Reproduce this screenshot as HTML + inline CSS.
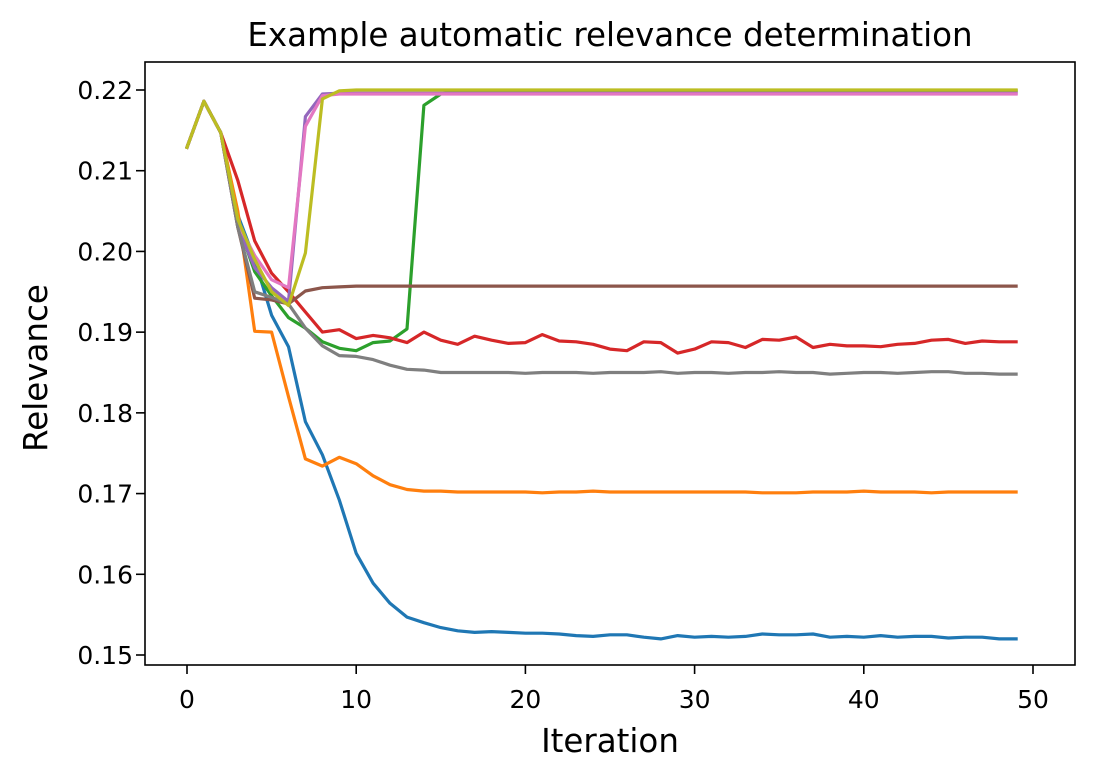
<!DOCTYPE html>
<html><head><meta charset="utf-8"><style>
body{margin:0;background:#fff;}
svg{display:block;font-family:"DejaVu Sans","Liberation Sans",sans-serif;}
</style></head><body>
<svg id="chart" width="1095" height="778">
<text x="610" y="46" text-anchor="middle" font-size="32.5">Example automatic relevance determination</text>
<text x="610" y="752" text-anchor="middle" font-size="32.5">Iteration</text>
<text x="47" y="368" text-anchor="middle" font-size="32.5" transform="rotate(-90 47 368)">Relevance</text>
<g id="plot"></g>
</svg>
<script>
const xTicks=[0,10,20,30,40,50];
const yTicks=[0.15,0.16,0.17,0.18,0.19,0.20,0.21,0.22];
const yTickLabels=["0.15","0.16","0.17","0.18","0.19","0.20","0.21","0.22"];
const iterations=[0,1,2,3,4,5,6,7,8,9,10,11,12,13,14,15,16,17,18,19,20,21,22,23,24,25,26,27,28,29,30,31,32,33,34,35,36,37,38,39,40,41,42,43,44,45,46,47,48,49];
const s0=[0.2129,0.2186,0.2147,0.2045,0.1990,0.1921,0.1882,0.1789,0.1748,0.1692,0.1626,0.1589,0.1564,0.1547,0.1540,0.1534,0.1530,0.1528,0.1529,0.1528,0.1527,0.1527,0.1526,0.1524,0.1523,0.1525,0.1525,0.1522,0.1520,0.1524,0.1522,0.1523,0.1522,0.1523,0.1526,0.1525,0.1525,0.1526,0.1522,0.1523,0.1522,0.1524,0.1522,0.1523,0.1523,0.1521,0.1522,0.1522,0.1520,0.1520];
const s1=[0.2129,0.2186,0.2147,0.2050,0.1901,0.1900,0.1820,0.1743,0.1734,0.1745,0.1737,0.1722,0.1711,0.1705,0.1703,0.1703,0.1702,0.1702,0.1702,0.1702,0.1702,0.1701,0.1702,0.1702,0.1703,0.1702,0.1702,0.1702,0.1702,0.1702,0.1702,0.1702,0.1702,0.1702,0.1701,0.1701,0.1701,0.1702,0.1702,0.1702,0.1703,0.1702,0.1702,0.1702,0.1701,0.1702,0.1702,0.1702,0.1702,0.1702];
const s2=[0.2129,0.2186,0.2147,0.2035,0.1975,0.1945,0.1918,0.1905,0.1888,0.1880,0.1877,0.1887,0.1889,0.1904,0.2181,0.2195,0.2199,0.2199,0.2199,0.2199,0.2199,0.2199,0.2199,0.2199,0.2199,0.2199,0.2199,0.2199,0.2199,0.2199,0.2199,0.2199,0.2199,0.2199,0.2199,0.2199,0.2199,0.2199,0.2199,0.2199,0.2199,0.2199,0.2199,0.2199,0.2199,0.2199,0.2199,0.2199,0.2199,0.2199];
const s3=[0.2129,0.2186,0.2147,0.2088,0.2013,0.1973,0.1950,0.1925,0.1900,0.1903,0.1892,0.1896,0.1893,0.1887,0.1900,0.1890,0.1885,0.1895,0.1890,0.1886,0.1887,0.1897,0.1889,0.1888,0.1885,0.1879,0.1877,0.1888,0.1887,0.1874,0.1879,0.1888,0.1887,0.1881,0.1891,0.1890,0.1894,0.1881,0.1885,0.1883,0.1883,0.1882,0.1885,0.1886,0.1890,0.1891,0.1886,0.1889,0.1888,0.1888];
const s4=[0.2129,0.2186,0.2147,0.2030,0.1980,0.1955,0.1938,0.2167,0.2195,0.2196,0.2196,0.2196,0.2196,0.2196,0.2196,0.2196,0.2196,0.2196,0.2196,0.2196,0.2196,0.2196,0.2196,0.2196,0.2196,0.2196,0.2196,0.2196,0.2196,0.2196,0.2196,0.2196,0.2196,0.2196,0.2196,0.2196,0.2196,0.2196,0.2196,0.2196,0.2196,0.2196,0.2196,0.2196,0.2196,0.2196,0.2196,0.2196,0.2196,0.2196];
const s5=[0.2129,0.2186,0.2147,0.2030,0.1942,0.1940,0.1935,0.1951,0.1955,0.1956,0.1957,0.1957,0.1957,0.1957,0.1957,0.1957,0.1957,0.1957,0.1957,0.1957,0.1957,0.1957,0.1957,0.1957,0.1957,0.1957,0.1957,0.1957,0.1957,0.1957,0.1957,0.1957,0.1957,0.1957,0.1957,0.1957,0.1957,0.1957,0.1957,0.1957,0.1957,0.1957,0.1957,0.1957,0.1957,0.1957,0.1957,0.1957,0.1957,0.1957];
const s6=[0.2129,0.2186,0.2147,0.2035,0.1995,0.1965,0.1955,0.2155,0.2193,0.2195,0.2195,0.2195,0.2195,0.2195,0.2195,0.2195,0.2195,0.2195,0.2195,0.2195,0.2195,0.2195,0.2195,0.2195,0.2195,0.2195,0.2195,0.2195,0.2195,0.2195,0.2195,0.2195,0.2195,0.2195,0.2195,0.2195,0.2195,0.2195,0.2195,0.2195,0.2195,0.2195,0.2195,0.2195,0.2195,0.2195,0.2195,0.2195,0.2195,0.2195];
const s7=[0.2129,0.2186,0.2147,0.2030,0.1950,0.1943,0.1935,0.1905,0.1883,0.1871,0.1870,0.1866,0.1859,0.1854,0.1853,0.1850,0.1850,0.1850,0.1850,0.1850,0.1849,0.1850,0.1850,0.1850,0.1849,0.1850,0.1850,0.1850,0.1851,0.1849,0.1850,0.1850,0.1849,0.1850,0.1850,0.1851,0.1850,0.1850,0.1848,0.1849,0.1850,0.1850,0.1849,0.1850,0.1851,0.1851,0.1849,0.1849,0.1848,0.1848];
const s8=[0.2129,0.2186,0.2147,0.2040,0.1990,0.1950,0.1933,0.1998,0.2189,0.2199,0.2200,0.2200,0.2200,0.2200,0.2200,0.2200,0.2200,0.2200,0.2200,0.2200,0.2200,0.2200,0.2200,0.2200,0.2200,0.2200,0.2200,0.2200,0.2200,0.2200,0.2200,0.2200,0.2200,0.2200,0.2200,0.2200,0.2200,0.2200,0.2200,0.2200,0.2200,0.2200,0.2200,0.2200,0.2200,0.2200,0.2200,0.2200,0.2200,0.2200];
const series=[s0,s1,s2,s3,s4,s5,s6,s7,s8];
const colors=["#1f77b4","#ff7f0e","#2ca02c","#d62728","#9467bd","#8c564b","#e377c2","#7f7f7f","#bcbd22"];
const L=145,R=1075,T=62,B=665;
const sx=v=>187+(v-0)*(1033-187)/50;
const sy=v=>90+(0.22-v)*(655-90)/0.07;
const NS="http://www.w3.org/2000/svg";
const g=document.getElementById('plot');
function mk(t,a){const e=document.createElementNS(NS,t);for(const k in a)e.setAttribute(k,a[k]);g.appendChild(e);return e;}
series.forEach((s,i)=>{
  const p=mk('polyline',{points:s.map((v,j)=>sx(iterations[j]).toFixed(1)+','+sy(v).toFixed(1)).join(' '),fill:'none',stroke:colors[i],'stroke-width':3.2,'stroke-linejoin':'round','stroke-linecap':'square'});
  
  
});
const fr=mk('rect',{x:L,y:T,width:R-L,height:B-T,fill:'none',stroke:'#000','stroke-width':1.6});


xTicks.forEach(t=>{
  const x=sx(t);
  const l=mk('line',{x1:x,x2:x,y1:B,y2:B+9,stroke:'#000','stroke-width':1.6});
  
  
  const tx=mk('text',{x:x,y:708,'text-anchor':'middle','font-size':25});
  tx.textContent=t;
  
  
});
yTicks.forEach((t,i)=>{
  const y=sy(t);
  const l=mk('line',{x1:L-9,x2:L,y1:y,y2:y,stroke:'#000','stroke-width':1.6});
  
  
  const tx=mk('text',{x:L-12,y:y+9,'text-anchor':'end','font-size':25});
  tx.textContent=yTickLabels[i];
  
  
});
</script>
</body></html>
